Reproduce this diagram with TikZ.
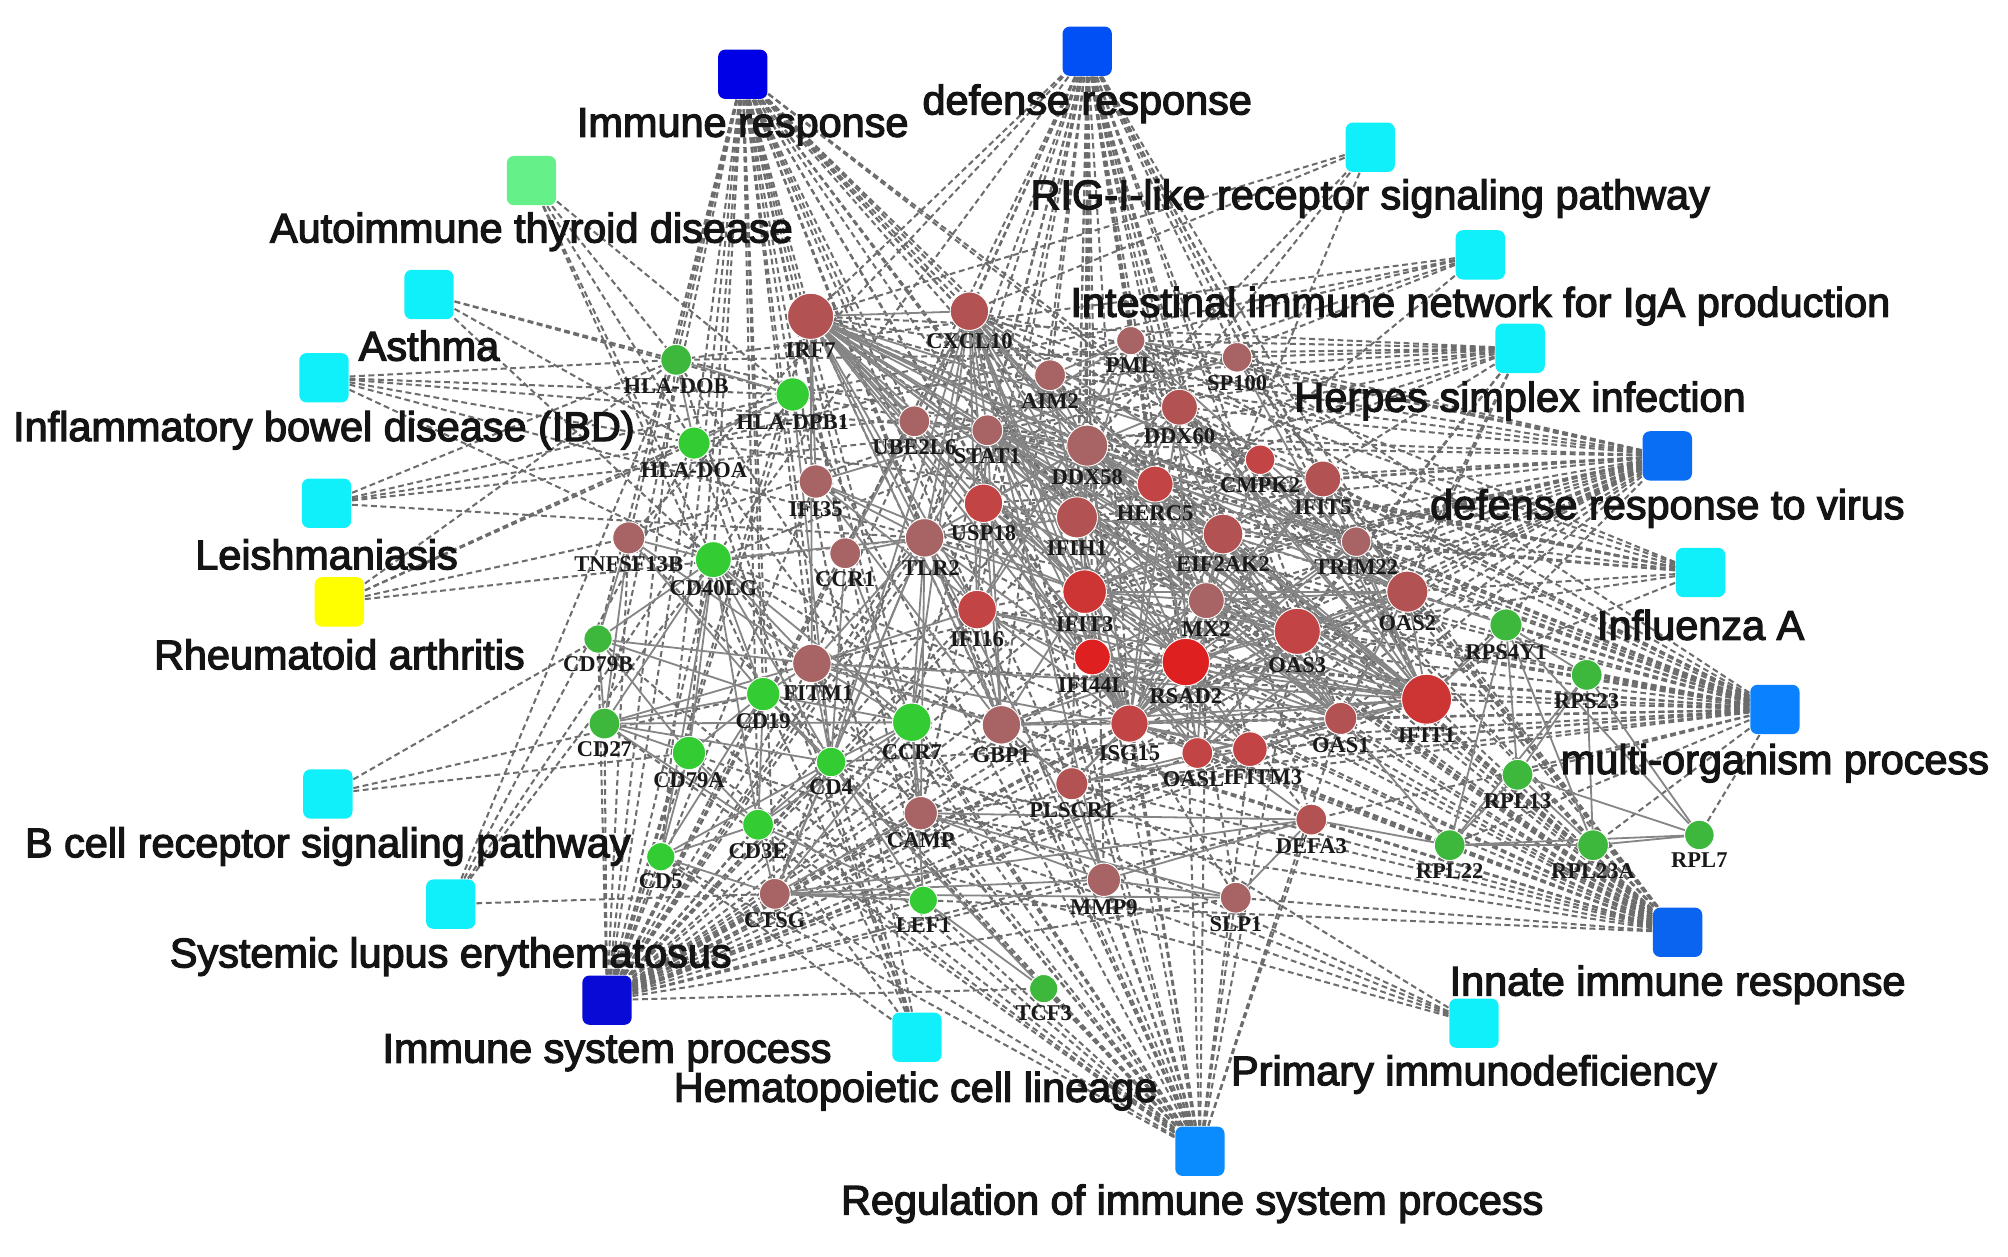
\documentclass[tikz,border=0pt]{standalone}
\usepackage{fontspec}
\newfontfamily\tfont{Liberation Sans}[BoldFont=Liberation Sans, BoldFeatures={FakeBold=3}]
\newfontfamily\gfont{Liberation Serif}
\pgfdeclarelayer{bottom}
\pgfdeclarelayer{edges}
\pgfsetlayers{bottom,edges,main}
\definecolor{rb1}{HTML}{A86464}
\definecolor{rb2}{HTML}{B35252}
\definecolor{rb3}{HTML}{C24444}
\definecolor{rb4}{HTML}{CD3535}
\definecolor{rb5}{HTML}{DE2020}
\definecolor{gr1}{HTML}{33CC33}
\definecolor{gr2}{HTML}{3DB83D}
\definecolor{cdb}{HTML}{0000E6}
\definecolor{cdb2}{HTML}{0A0AD6}
\definecolor{cb1}{HTML}{0050F5}
\definecolor{cb2}{HTML}{0A6EF5}
\definecolor{cb3}{HTML}{0A82FF}
\definecolor{cb4}{HTML}{0A64F0}
\definecolor{cb5}{HTML}{0A8CFF}
\definecolor{ccy}{HTML}{10F0FA}
\definecolor{cgr}{HTML}{66F08A}
\definecolor{cye}{HTML}{FFFF00}
\definecolor{tedgec}{HTML}{6C6C6C}
\definecolor{gedgec}{HTML}{858585}
\newcommand\gn[7][]{\node[gnode, fill=#7, minimum size=#6cm, label={[glab,#1]below:#3}] (#2) at (#4,#5) {};}
\newcommand\tn[7]{\node[term, fill=#4] (#1) at (#2,#3) {}; \node[tlab] (#1l) at (#5,#6) {#7};}
\begin{document}
\begin{tikzpicture}[x=0.01cm,y=-0.01cm,
  term/.style={rectangle, rounded corners=1.6pt, minimum size=0.385cm, inner sep=0, draw=none},
  tlab/.style={font=\tfont\bfseries\fontsize{9.2}{11}\selectfont, text=black!92, inner sep=0, yshift=-0.02cm},
  gnode/.style={circle, inner sep=0, draw=white, line width=0.2pt},
  glab/.style={font=\gfont\bfseries\fontsize{5}{6}\selectfont, inner sep=0.4pt, text=black!90},
  tedge/.style={draw=tedgec, line width=0.45pt, dash pattern=on 1.3pt off 0.8pt},
  gedge/.style={draw=gedgec, line width=0.4pt}]
\useasboundingbox (0,0) rectangle (1568,981);
\begin{pgfonlayer}{bottom}
\fill[white] (0,0) rectangle (1568,981);
\end{pgfonlayer}
% ---------------- term nodes ----------------
\tn{ir}{580}{58}{cdb}{580}{97}{Immune response}
\tn{dr}{849}{40}{cb1}{849}{79}{defense response}
\tn{rig}{1070}{115}{ccy}{1070}{153}{RIG-I-like receptor signaling pathway}
\tn{atd}{415}{141}{cgr}{415}{179}{Autoimmune thyroid disease}
\tn{iin}{1156}{199}{ccy}{1156}{237}{Intestinal immune network for IgA production}
\tn{ast}{335}{230}{ccy}{335}{268}{Asthma}
\tn{hsi}{1187}{272}{ccy}{1187}{311}{Herpes simplex infection}
\tn{ibd}{253}{295}{ccy}{253}{334}{Inflammatory bowel disease (IBD)}
\tn{drv}{1302}{356}{cb2}{1302}{395}{defense response to virus}
\tn{lei}{255}{393}{ccy}{255}{431}{Leishmaniasis}
\tn{flu}{1328}{447}{ccy}{1328}{486}{Influenza A}
\tn{ra}{265}{470}{cye}{265}{509}{Rheumatoid arthritis}
\tn{mop}{1386}{554}{cb3}{1386}{594}{multi-organism process}
\tn{bcr}{256}{620}{ccy}{256}{659}{B cell receptor signaling pathway}
\tn{sle}{352}{706}{ccy}{352}{745}{Systemic lupus erythematosus}
\tn{iir}{1310}{728}{cb4}{1310}{767}{Innate immune response}
\tn{isp}{474}{781}{cdb2}{474}{820}{Immune system process}
\tn{hcl}{716}{810}{ccy}{715}{850}{Hematopoietic cell lineage}
\tn{pid}{1151}{799}{ccy}{1151}{837}{Primary immunodeficiency}
\tn{ris}{937}{899}{cb5}{931}{938}{Regulation of immune system process}
% ---------------- gene nodes ----------------
\gn{IRF7}{IRF7}{633}{247}{0.36}{rb2}
\gn{CXCL10}{CXCL10}{757}{243}{0.30}{rb2}
\gn{PML}{PML}{883}{266}{0.22}{rb1}
\gn{SP100}{SP100}{966}{279}{0.23}{rb1}
\gn{AIM2}{AIM2}{820}{293}{0.24}{rb1}
\gn{HLADOB}{HLA-DOB}{528}{281}{0.24}{gr2}
\gn{HLADPB1}{HLA-DPB1}{619}{308}{0.26}{gr1}
\gn{HLADOA}{HLA-DOA}{542}{346}{0.25}{gr1}
\gn{UBE2L6}{UBE2L6}{714}{329}{0.24}{rb1}
\gn{STAT1}{STAT1}{771}{336}{0.24}{rb1}
\gn{DDX60}{DDX60}{921}{318}{0.28}{rb2}
\gn{DDX58}{DDX58}{849}{348}{0.32}{rb1}
\gn{CMPK2}{CMPK2}{984}{359}{0.23}{rb3}
\gn{IFIT5}{IFIT5}{1033}{374}{0.28}{rb2}
\gn{HERC5}{HERC5}{902}{378}{0.28}{rb3}
\gn{IFIH1}{IFIH1}{841}{404}{0.32}{rb2}
\gn{USP18}{USP18}{768}{393}{0.30}{rb3}
\gn{IFI35}{IFI35}{637}{376}{0.26}{rb1}
\gn[xshift=0.05cm]{TLR2}{TLR2}{722}{420}{0.30}{rb1}
\gn{EIF2AK2}{EIF2AK2}{955}{417}{0.31}{rb2}
\gn{TRIM22}{TRIM22}{1059}{423}{0.23}{rb1}
\gn{TNFSF13B}{TNFSF13B}{491}{420}{0.25}{rb1}
\gn{CD40LG}{CD40LG}{557}{437}{0.28}{gr1}
\gn{CCR1}{CCR1}{660}{432}{0.24}{rb1}
\gn{IFIT3}{IFIT3}{847}{462}{0.34}{rb4}
\gn{MX2}{MX2}{942}{469}{0.28}{rb1}
\gn{OAS2}{OAS2}{1099}{462}{0.32}{rb2}
\gn{IFI16}{IFI16}{763}{476}{0.30}{rb3}
\gn{RPS4Y1}{RPS4Y1}{1176}{488}{0.25}{gr2}
\gn{OAS3}{OAS3}{1013}{493}{0.36}{rb3}
\gn{CD79B}{CD79B}{467}{499}{0.22}{gr2}
\gn[xshift=0.05cm]{FITM1}{FITM1}{634}{518}{0.30}{rb1}
\gn{RSAD2}{RSAD2}{926}{517}{0.37}{rb5}
\gn{IFI44L}{IFI44L}{853}{513}{0.28}{rb5}
\gn{CD19}{CD19}{596}{542}{0.26}{gr1}
\gn{RPS23}{RPS23}{1239}{527}{0.24}{gr2}
\gn{IFIT1}{IFIT1}{1114}{546}{0.39}{rb4}
\gn{CD27}{CD27}{472}{565}{0.24}{gr2}
\gn{CCR7}{CCR7}{712}{564}{0.30}{gr1}
\gn{GBP1}{GBP1}{782}{566}{0.30}{rb1}
\gn{ISG15}{ISG15}{882}{565}{0.29}{rb3}
\gn[xshift=-0.03cm]{OASL}{OASL}{935}{588}{0.24}{rb3}
\gn[xshift=0.1cm]{IFITM3}{IFITM3}{976}{585}{0.27}{rb3}
\gn{OAS1}{OAS1}{1047}{561}{0.25}{rb2}
\gn{CD79A}{CD79A}{538}{588}{0.26}{gr1}
\gn{CD4}{CD4}{649}{595}{0.23}{gr1}
\gn{PLSCR1}{PLSCR1}{837}{612}{0.25}{rb2}
\gn{RPL13}{RPL13}{1185}{605}{0.24}{gr2}
\gn{DEFA3}{DEFA3}{1024}{640}{0.24}{rb2}
\gn{CD3E}{CD3E}{592}{644}{0.24}{gr1}
\gn{CAMP}{CAMP}{719}{635}{0.26}{rb1}
\gn{RPL22}{RPL22}{1132}{660}{0.24}{gr2}
\gn{RPL23A}{RPL23A}{1244}{660}{0.24}{gr2}
\gn{RPL7}{RPL7}{1327}{652}{0.23}{gr2}
\gn{CD5}{CD5}{516}{669}{0.22}{gr1}
\gn{CTSG}{CTSG}{605}{698}{0.24}{rb1}
\gn{LEF1}{LEF1}{721}{703}{0.22}{gr1}
\gn{MMP9}{MMP9}{862}{687}{0.26}{rb1}
\gn{SLP1}{SLP1}{965}{701}{0.24}{rb1}
\gn{TCF3}{TCF3}{815}{772}{0.22}{gr2}
% ---------------- edges ----------------
\begin{pgfonlayer}{edges}
% term -- gene (dashed)
\foreach \g in {HLADOB,HLADPB1,HLADOA,TNFSF13B,CD40LG,CD79B,CD19,CD27,CD79A,CD4,CD3E,CD5,CCR7,CCR1,IRF7,CXCL10,AIM2,TLR2,DDX58,IFIH1,STAT1,UBE2L6,IFI35,OAS1,OAS2,OAS3,GBP1,CAMP,DEFA3,CTSG,IFI16,TRIM22,FITM1,MX2,LEF1,ISG15,PLSCR1,SLP1}
  \draw[tedge] (ir) -- (\g);
\foreach \g in {IRF7,CXCL10,PML,AIM2,DDX58,IFIH1,DDX60,STAT1,TLR2,CCR1,IFI16,IFIT3,MX2,OAS1,OAS2,OAS3,OASL,ISG15,RSAD2,IFIT1,IFIT5,HERC5,EIF2AK2,TRIM22,GBP1,CAMP,DEFA3,CTSG,CD40LG,CCR7,TNFSF13B,FITM1,IFITM3,PLSCR1,SLP1,MMP9,IFI44L,SP100}
  \draw[tedge] (dr) -- (\g);
\foreach \g in {DDX58,IFIH1,ISG15,CXCL10,IRF7}
  \draw[tedge] (rig) -- (\g);
\foreach \g in {HLADOB,HLADPB1,HLADOA,CD40LG,CD19}
  \draw[tedge] (atd) -- (\g);
\foreach \g in {HLADOB,HLADPB1,HLADOA,CD40LG,TNFSF13B,CCR7}
  \draw[tedge] (iin) -- (\g);
\foreach \g in {HLADOB,HLADPB1,HLADOA,CD40LG}
  \draw[tedge] (ast) -- (\g);
\foreach \g in {IRF7,PML,SP100,DDX58,IFIH1,STAT1,OAS1,OAS2,OAS3,OASL,EIF2AK2,HLADOB,HLADPB1,HLADOA,TLR2}
  \draw[tedge] (hsi) -- (\g);
\foreach \g in {HLADOB,HLADPB1,HLADOA,STAT1,TLR2,CD40LG}
  \draw[tedge] (ibd) -- (\g);
\foreach \g in {IFIT1,IFIT3,IFIT5,RSAD2,MX2,OAS1,OAS2,OAS3,OASL,ISG15,IFIH1,DDX58,DDX60,HERC5,IFITM3,FITM1,EIF2AK2,TRIM22,STAT1,IRF7,CXCL10,AIM2,PML,SP100,IFI16,PLSCR1,GBP1,IFI44L,USP18}
  \draw[tedge] (drv) -- (\g);
\foreach \g in {HLADOB,HLADPB1,HLADOA,TLR2,STAT1}
  \draw[tedge] (lei) -- (\g);
\foreach \g in {IRF7,DDX58,IFIH1,EIF2AK2,OAS1,OAS2,OAS3,STAT1,PML,CXCL10,HLADOB,HLADPB1,HLADOA}
  \draw[tedge] (flu) -- (\g);
\foreach \g in {HLADOB,HLADPB1,HLADOA,TNFSF13B,TLR2}
  \draw[tedge] (ra) -- (\g);
\foreach \g in {IFIT1,IFIT3,IFIT5,RSAD2,MX2,OAS1,OAS2,OAS3,OASL,ISG15,IFIH1,DDX58,EIF2AK2,TRIM22,STAT1,IRF7,CXCL10,PML,SP100,IFI16,PLSCR1,GBP1,IFITM3,FITM1,HERC5,DDX60,RPS4Y1,RPS23,RPL13,RPL22,RPL23A,RPL7,CD4,DEFA3,CAMP,TLR2,AIM2,IFI44L,USP18}
  \draw[tedge] (mop) -- (\g);
\foreach \g in {CD79B,CD19,CD79A}
  \draw[tedge] (bcr) -- (\g);
\foreach \g in {HLADOB,HLADPB1,HLADOA,CD40LG,CTSG}
  \draw[tedge] (sle) -- (\g);
\foreach \g in {HLADOB,HLADPB1,HLADOA,TNFSF13B,CD40LG,CD79B,CD19,CD27,CD79A,CD4,CD3E,CD5,CCR7,CCR1,IRF7,CXCL10,TLR2,DDX58,IFIH1,STAT1,OAS1,OAS2,OAS3,GBP1,CAMP,DEFA3,CTSG,IFI16,LEF1,TCF3,MMP9,SLP1,ISG15,FITM1,IFITM3,PLSCR1,AIM2,IFI35,MX2,TRIM22,RSAD2,IFIT1,IFIT3,OASL,EIF2AK2}
  \draw[tedge] (isp) -- (\g);
\foreach \g in {CD19,CD4,CD3E,CD5,HLADOB,HLADPB1,HLADOA}
  \draw[tedge] (hcl) -- (\g);
\foreach \g in {CD19,CD40LG,CD4,CD3E,CD79A}
  \draw[tedge] (pid) -- (\g);
\foreach \g in {IRF7,CXCL10,AIM2,DDX58,IFIH1,DDX60,TLR2,IFI16,IFIT1,IFIT3,IFIT5,OAS1,OAS2,OAS3,OASL,ISG15,RSAD2,MX2,EIF2AK2,TRIM22,STAT1,GBP1,CAMP,DEFA3,CTSG,HERC5,PML,SP100,PLSCR1,CD4,IFI44L,USP18,CD40LG,CCR7,FITM1,IFITM3,SLP1}
  \draw[tedge] (iir) -- (\g);
\foreach \g in {CD40LG,CD4,CD3E,CD19,CD79A,CD79B,CD5,CCR7,LEF1,TCF3,IRF7,CXCL10,TLR2,DDX58,IFIH1,STAT1,ISG15,GBP1,CAMP,CTSG,MMP9,SLP1,TNFSF13B,HLADOB,HLADPB1,HLADOA,OAS1,OAS3,IFITM3,PLSCR1,FITM1,DEFA3,CD27,IFI16,RSAD2,MX2}
  \draw[tedge] (ris) -- (\g);
% gene -- gene (solid)
\foreach \g in {CXCL10,DDX58,IFIH1,ISG15,RSAD2,IFIT1,IFIT3,OAS1,OAS2,OAS3,MX2,STAT1,USP18,IFI35,TLR2,IFI16,EIF2AK2,OASL,HERC5,IFIT5,IFI44L,GBP1,TRIM22,UBE2L6,FITM1,IFITM3}
  \draw[gedge] (IRF7) -- (\g);
\foreach \g in {STAT1,DDX58,IFIH1,ISG15,RSAD2,IFIT1,IFIT3,OAS1,MX2,TLR2,CCR7,CD4,GBP1,IFI16,MMP9,CCR1,OAS2,IFI44L}
  \draw[gedge] (CXCL10) -- (\g);
\foreach \g in {DDX58,IFIH1,RSAD2,IFIT1,IFIT3,OAS1,OAS2,OAS3,MX2,HERC5,USP18,UBE2L6,EIF2AK2,IFI44L,OASL,IFIT5,STAT1,PLSCR1,IFITM3,IFI35,GBP1,DDX60,TRIM22}
  \draw[gedge] (ISG15) -- (\g);
\foreach \g in {IFIT1,IFIT3,OAS1,OAS2,OAS3,MX2,IFI44L,HERC5,CMPK2,OASL,DDX60,DDX58,IFIH1,EIF2AK2,IFITM3,IFI16,USP18,IFIT5,STAT1,GBP1,PLSCR1,TRIM22}
  \draw[gedge] (RSAD2) -- (\g);
\foreach \g in {IFIT3,IFIT5,OAS1,OAS2,OAS3,MX2,OASL,IFI44L,HERC5,DDX60,EIF2AK2,TRIM22,USP18,CMPK2,STAT1,IFITM3,DDX58,GBP1,FITM1,IFI16,IFIH1,PLSCR1,RPS4Y1,SP100,PML}
  \draw[gedge] (IFIT1) -- (\g);
\foreach \g in {IFIT5,OAS1,OAS2,OAS3,MX2,OASL,IFI44L,HERC5,DDX60,EIF2AK2,DDX58,IFIH1,STAT1,USP18,IFI35,GBP1,CMPK2,TLR2}
  \draw[gedge] (IFIT3) -- (\g);
\foreach \a/\b in {OAS1/OAS2,OAS1/OAS3,OAS1/OASL,OAS1/MX2,OAS1/EIF2AK2,OAS1/STAT1,OAS1/IFI44L,OAS1/HERC5,
  OAS2/OAS3,OAS2/MX2,OAS2/EIF2AK2,OAS2/OASL,OAS2/TRIM22,OAS2/IFIT5,OAS2/DDX60,OAS2/STAT1,
  OAS3/MX2,OAS3/OASL,OAS3/EIF2AK2,OAS3/IFIH1,OAS3/DDX58,OAS3/HERC5,
  MX2/EIF2AK2,MX2/STAT1,MX2/DDX58,MX2/HERC5,MX2/IFI44L,MX2/OASL,MX2/IFIT5,
  DDX58/IFIH1,DDX58/STAT1,DDX58/TRIM22,DDX58/DDX60,DDX58/EIF2AK2,DDX58/HERC5,DDX58/USP18,DDX58/AIM2,DDX58/IFI16,DDX58/TLR2,
  IFIH1/STAT1,IFIH1/EIF2AK2,IFIH1/HERC5,IFIH1/DDX60,IFIH1/AIM2,IFIH1/PML,IFIH1/USP18,IFIH1/TLR2,
  STAT1/PML,STAT1/SP100,STAT1/IFI35,STAT1/GBP1,STAT1/UBE2L6,STAT1/TLR2,STAT1/IFI16,STAT1/EIF2AK2,STAT1/USP18,STAT1/TRIM22,
  PML/SP100,PML/AIM2,PML/IFI16,PML/TRIM22,PML/EIF2AK2,
  TLR2/CCR1,TLR2/CD4,TLR2/FITM1,TLR2/CAMP,TLR2/DEFA3,TLR2/CTSG,TLR2/IFI16,TLR2/MMP9,TLR2/CCR7,TLR2/CD40LG,TLR2/IFI35,TLR2/GBP1,
  CAMP/DEFA3,CAMP/CTSG,CAMP/MMP9,CAMP/SLP1,CAMP/CCR7,DEFA3/CTSG,DEFA3/MMP9,DEFA3/SLP1,
  CTSG/MMP9,CTSG/SLP1,CTSG/CD4,CTSG/LEF1,MMP9/SLP1,MMP9/PLSCR1,
  GBP1/FITM1,GBP1/IFI16,GBP1/IFI35,GBP1/PLSCR1,
  FITM1/IFITM3,FITM1/CD19,FITM1/CD27,FITM1/CCR7,FITM1/IFI16,FITM1/CD79B,FITM1/TNFSF13B,FITM1/CD40LG,FITM1/CD4,
  IFITM3/IFI16,IFITM3/PLSCR1,
  CD19/CD79A,CD19/CD79B,CD79A/CD79B,CD19/CD40LG,CD19/CD27,CD19/CD4,CD19/CD3E,CD19/CD5,CD19/CCR7,
  CD40LG/CD4,CD40LG/CD3E,CD40LG/CD27,CD40LG/CD79B,CD40LG/TNFSF13B,CD40LG/CD5,CD40LG/CCR7,CD40LG/CD79A,
  CD27/CD79B,CD27/CD3E,CD27/CD4,CD27/CD79A,CD27/CCR7,CD27/TNFSF13B,
  CD79A/CD5,CD79A/CD3E,CD4/CD3E,CD4/CCR7,CD4/CD5,CD3E/CD5,CD3E/CCR7,CD3E/LEF1,
  LEF1/TCF3,LEF1/CCR7,LEF1/CD4,TCF3/CD19,TNFSF13B/CD79B,TNFSF13B/CD19,
  HLADOB/HLADOA,HLADOB/HLADPB1,HLADOA/HLADPB1,HLADPB1/CD4,CCR7/CCR1,CCR1/CD4,CCR7/CTSG,CD3E/CTSG,CD5/CTSG,
  RPS4Y1/RPS23,RPS4Y1/RPL13,RPS4Y1/RPL22,RPS4Y1/RPL23A,RPS4Y1/RPL7,RPS23/RPL13,RPS23/RPL22,RPS23/RPL23A,RPS23/RPL7,
  RPL13/RPL22,RPL13/RPL23A,RPL13/RPL7,RPL22/RPL23A,RPL22/RPL7,RPL23A/RPL7,RPS4Y1/OAS2,RPL22/OAS1,RPL22/DEFA3}
  \draw[gedge] (\a) -- (\b);
\end{pgfonlayer}
\end{tikzpicture}
\end{document}
